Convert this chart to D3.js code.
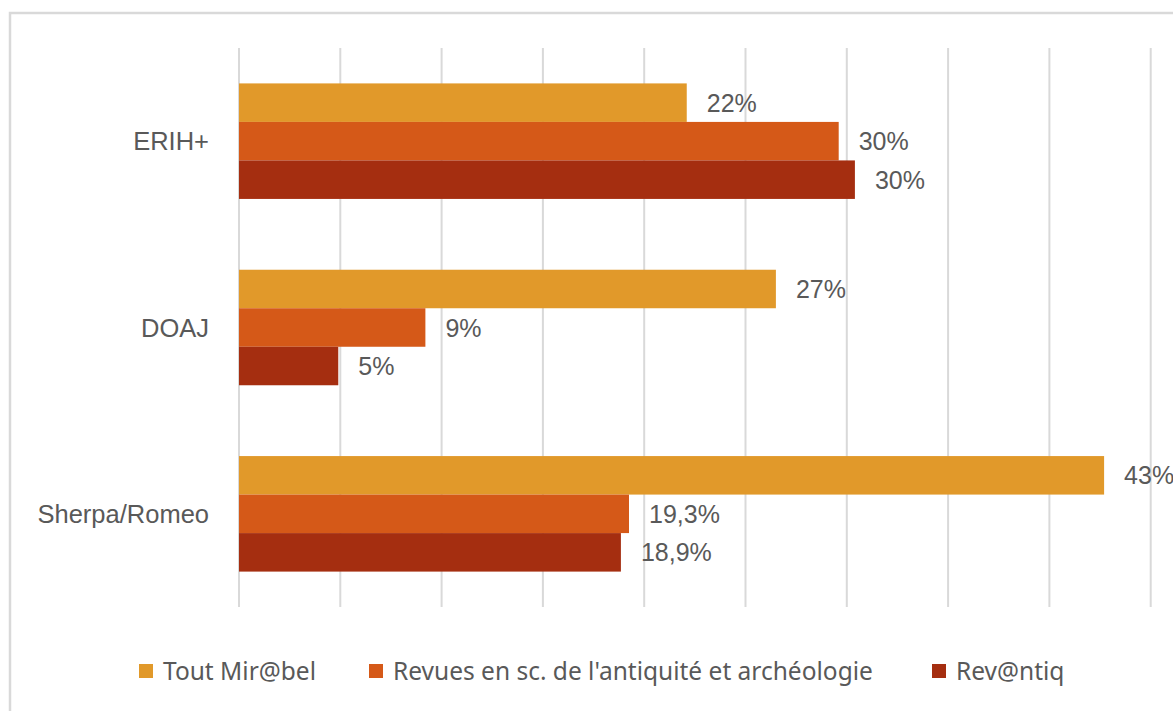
<!DOCTYPE html>
<html>
<head>
<meta charset="utf-8">
<script src="https://cdn.jsdelivr.net/npm/d3@7"></script>
<style>
  body { margin: 0; background: #fff; }
  svg { display: block; }
</style>
</head>
<body>
<svg id="chart"></svg>
<script>
// categories top to bottom, as shown
var categories = ["ERIH+", "DOAJ", "Sherpa/Romeo"];
var seriesNames = ["Tout Mir@bel", "Revues en sc. de l'antiquité et archéologie", "Rev@ntiq"];
var seriesColors = ["#E1992A", "#D55918", "#A52E10"];
// values per series, in category order
var toutMirabel = [0.221, 0.265, 0.427];
var revuesAntiquite = [0.296, 0.092, 0.1925];
var revantiq = [0.304, 0.049, 0.1885];
var valueLabels = [
    ["22%", "27%", "43%"],
    ["30%", "9%", "19,3%"],
    ["30%", "5%", "18,9%"]
];
var gridTicks = [0, 0.05, 0.10, 0.15, 0.20, 0.25, 0.30, 0.35, 0.40, 0.45, 0.50];

var width = 1173, height = 711;
var margin = {top: 48, right: 0, bottom: 104, left: 239};

var svg = d3.select("#chart")
    .attr("width", width)
    .attr("height", height);

// chart area border (only top and left visible in the crop)
svg.append("rect")
    .attr("x", 10)
    .attr("y", 13)
    .attr("width", width + 20)
    .attr("height", height + 20)
    .style("fill", "none")
    .style("stroke", "#d9d9d9")
    .style("stroke-width", 2.5);

let x = d3.scaleLinear()
    .domain([0, 0.5])
    .range([margin.left, margin.left + 10 * 101.3]);

let y = d3.scaleBand()
    .domain(categories)
    .range([margin.top, height - margin.bottom])
    .paddingInner(0.38)
    .paddingOuter(0.19);

let ySub = d3.scaleBand()
    .domain(d3.range(seriesNames.length))
    .range([0, y.bandwidth()]);

// vertical gridlines
svg.append("g")
    .attr("class", "grid")
    .selectAll("line")
    .data(gridTicks)
    .enter().append("line")
    .attr("x1", function (d) { return x(d); })
    .attr("x2", function (d) { return x(d); })
    .attr("y1", margin.top)
    .attr("y2", height - margin.bottom)
    .style("stroke", "#d9d9d9")
    .style("stroke-width", 2);

let seriesValues = [toutMirabel, revuesAntiquite, revantiq];

let rows = [];
seriesValues.forEach(function (vals, s) {
    vals.forEach(function (v, c) {
        rows.push({series: s, cat: categories[c], value: v, label: valueLabels[s][c]});
    });
});

svg.append("g")
    .attr("class", "bars")
    .selectAll("rect")
    .data(rows)
    .enter().append("rect")
    .attr("x", x(0))
    .attr("y", function (d) { return y(d.cat) + ySub(d.series); })
    .attr("width", function (d) { return x(d.value) - x(0); })
    .attr("height", ySub.bandwidth())
    .style("fill", function (d) { return seriesColors[d.series]; });

svg.append("g")
    .attr("class", "labels")
    .selectAll("text")
    .data(rows)
    .enter().append("text")
    .attr("x", function (d) { return x(d.value) + 20; })
    .attr("y", function (d) { return y(d.cat) + ySub(d.series) + ySub.bandwidth() / 2; })
    .attr("dy", "0.36em")
    .style("font-family", "'Liberation Sans', Arial, sans-serif")
    .style("font-size", "25px")
    .style("fill", "#595959")
    .text(function (d) { return d.label; });

// category labels
svg.append("g")
    .attr("class", "cats")
    .selectAll("text")
    .data(categories)
    .enter().append("text")
    .attr("x", 209)
    .attr("y", function (d) { return y(d) + y.bandwidth() / 2; })
    .attr("dy", "0.36em")
    .style("text-anchor", "end")
    .style("font-family", "'Liberation Sans', Arial, sans-serif")
    .style("font-size", "25.5px")
    .style("fill", "#595959")
    .text(function (d) { return d; });

// legend
let legend = svg.append("g").attr("class", "legend");
let legendX = [139, 369, 932];
seriesNames.forEach(function (name, i) {
    let item = legend.append("g")
        .attr("transform", "translate(" + legendX[i] + ",671)");
    item.append("rect")
        .attr("x", 0)
        .attr("y", -7)
        .attr("width", 14)
        .attr("height", 14)
        .style("fill", seriesColors[i]);
    item.append("text")
        .attr("x", 24)
        .attr("dy", "0.36em")
        .style("font-family", "'Noto Sans', sans-serif")
        .style("font-size", "24.5px")
        .style("fill", "#595959")
        .text(name);
});
</script>
</body>
</html>
